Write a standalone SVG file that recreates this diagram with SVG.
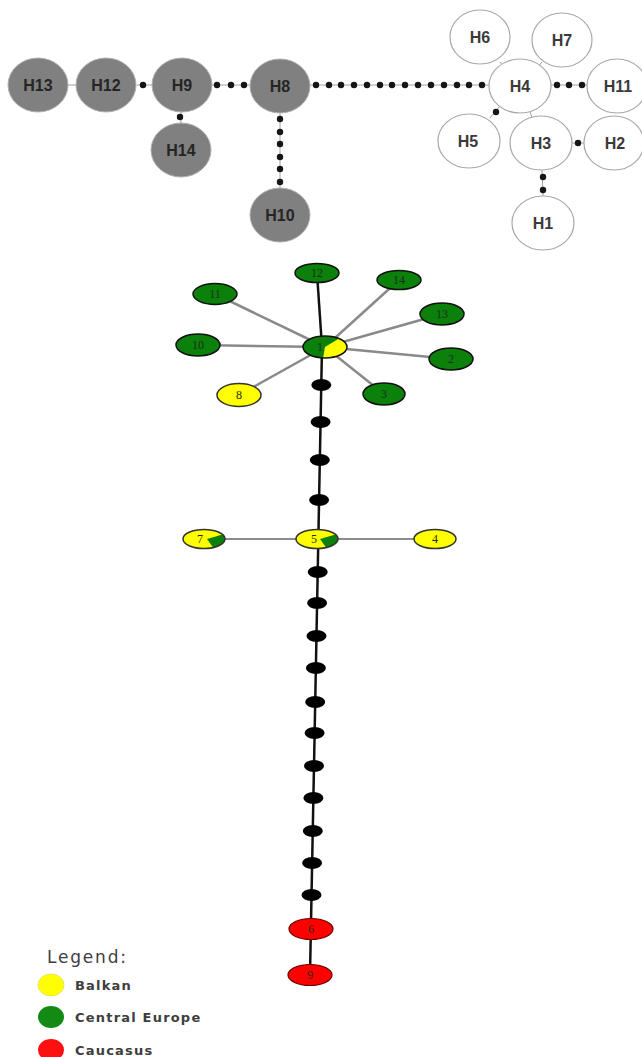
<svg xmlns="http://www.w3.org/2000/svg" width="642" height="1057" viewBox="0 0 642 1057">
  <style>
    .hg { fill: #808080; stroke: #b0b0b0; stroke-width: 1; }
    .hw { fill: #ffffff; stroke: #a8a8a8; stroke-width: 1.2; }
    .ht { font-family: "Liberation Sans", Arial, sans-serif; font-weight: bold; font-size: 16px; text-anchor: middle; fill: #252525; }
    .hwt { fill: #3a3a3a; }
    .thin { stroke: #a0a0a0; stroke-width: 1; fill: none; }
    .md { fill: #151515; }
    .star { stroke: #8a8a8a; stroke-width: 2.5; fill: none; }
    .axis { stroke: #111; stroke-width: 2.5; fill: none; }
    .gn { fill: #0b800b; stroke: #111; stroke-width: 1.5; }
    .yn { fill: #ffff00; stroke: #333; stroke-width: 1.5; }
    .gw { fill: #0b800b; }
    .yw { fill: #ffff00; }
    .rn { fill: #ff0000; stroke: #6a0000; stroke-width: 1.2; }
    .bd { fill: #000; }
    .nl { font-family: "Liberation Serif", "Times New Roman", serif; font-size: 12px; text-anchor: middle; fill: #1c2e1c; }
    .lg { font-family: "DejaVu Sans", Verdana, sans-serif; fill: #3e3e3e; }
  </style>

  <!-- connectors -->
  <g id="connectors">
    <!-- upper network: thin lines -->
    <line class="thin" x1="68" y1="85" x2="76" y2="85"/>
    <line class="thin" x1="137" y1="85" x2="152" y2="85"/>
    <line class="thin" x1="212" y1="85" x2="250" y2="85"/>
    <line class="thin" x1="310" y1="85" x2="489" y2="85"/>
    <line class="thin" x1="551" y1="85" x2="588" y2="85"/>
    <line class="thin" x1="181" y1="112" x2="181" y2="123"/>
    <line class="thin" x1="280" y1="113" x2="280" y2="188"/>
    <line class="thin" x1="500" y1="106" x2="490" y2="118"/>
    <line class="thin" x1="572" y1="143" x2="584" y2="143"/>
    <line class="thin" x1="542" y1="170" x2="543" y2="196"/>
    <line class="thin" x1="500" y1="62" x2="504" y2="67"/>
    <line class="thin" x1="542" y1="62" x2="538" y2="67"/>
    <line class="thin" x1="530" y1="112" x2="532" y2="117"/>
    <!-- mutation dots, upper network -->
    <g class="md">
      <circle cx="143" cy="85" r="3.2"/>
      <circle cx="217" cy="85" r="3.2"/>
      <circle cx="231" cy="85" r="3.2"/>
      <circle cx="244" cy="85" r="3.2"/>
      <circle cx="180" cy="117" r="3.2"/>
      <circle cx="280" cy="119" r="3.2"/>
      <circle cx="280" cy="132" r="3.2"/>
      <circle cx="280" cy="144" r="3.2"/>
      <circle cx="280" cy="157" r="3.2"/>
      <circle cx="280" cy="169" r="3.2"/>
      <circle cx="280" cy="182" r="3.2"/>
      <circle cx="316" cy="85" r="3.2"/>
      <circle cx="329" cy="85" r="3.2"/>
      <circle cx="341" cy="85" r="3.2"/>
      <circle cx="354" cy="85" r="3.2"/>
      <circle cx="367" cy="85" r="3.2"/>
      <circle cx="380" cy="85" r="3.2"/>
      <circle cx="392" cy="85" r="3.2"/>
      <circle cx="405" cy="85" r="3.2"/>
      <circle cx="418" cy="85" r="3.2"/>
      <circle cx="431" cy="85" r="3.2"/>
      <circle cx="444" cy="85" r="3.2"/>
      <circle cx="457" cy="85" r="3.2"/>
      <circle cx="469" cy="85" r="3.2"/>
      <circle cx="482" cy="85" r="3.2"/>
      <circle cx="557" cy="85" r="3.2"/>
      <circle cx="569" cy="85" r="3.2"/>
      <circle cx="582" cy="85" r="3.2"/>
      <circle cx="496" cy="112" r="3.2"/>
      <circle cx="578" cy="143" r="3.2"/>
      <circle cx="543" cy="177" r="3.2"/>
      <circle cx="543" cy="190" r="3.2"/>
    </g>

    <!-- lower network: star around node 1 -->
    <line class="star" x1="325" y1="347" x2="215" y2="294"/>
    <line class="star" x1="325" y1="347" x2="198" y2="345"/>
    <line class="star" x1="325" y1="347" x2="239" y2="395"/>
    <line class="star" x1="325" y1="347" x2="399" y2="280"/>
    <line class="star" x1="325" y1="347" x2="442" y2="314"/>
    <line class="star" x1="325" y1="347" x2="451" y2="359"/>
    <line class="star" x1="325" y1="347" x2="384" y2="394"/>
    <line class="axis" x1="317" y1="273" x2="322" y2="347"/>
    <!-- main axis from node 1 down to the Caucasus nodes -->
    <line class="axis" x1="322" y1="347" x2="310" y2="975"/>
    <line stroke="#666" stroke-width="1.6" x1="204" y1="539" x2="435" y2="539"/>
    <!-- mutation steps along the axis -->
    <g class="bd">
      <ellipse cx="321.3" cy="385" rx="10" ry="6"/>
      <ellipse cx="320.6" cy="422" rx="10" ry="6"/>
      <ellipse cx="319.8" cy="460" rx="10" ry="6"/>
      <ellipse cx="319.1" cy="500" rx="10" ry="6"/>
      <ellipse cx="317.7" cy="572" rx="10" ry="6"/>
      <ellipse cx="317.1" cy="603" rx="10" ry="6"/>
      <ellipse cx="316.5" cy="636" rx="10" ry="6"/>
      <ellipse cx="315.9" cy="668" rx="10" ry="6"/>
      <ellipse cx="315.2" cy="702" rx="10" ry="6"/>
      <ellipse cx="314.6" cy="733" rx="10" ry="6"/>
      <ellipse cx="314.0" cy="766" rx="10" ry="6"/>
      <ellipse cx="313.4" cy="798" rx="10" ry="6"/>
      <ellipse cx="312.8" cy="831" rx="10" ry="6"/>
      <ellipse cx="312.1" cy="863" rx="10" ry="6"/>
      <ellipse cx="311.5" cy="895" rx="10" ry="6"/>
    </g>
  </g>

  <!-- upper network: grey haplotypes -->
  <g id="H13"><ellipse class="hg" cx="38" cy="85" rx="30" ry="27"/><text class="ht" x="38" y="91">H13</text></g>
  <g id="H12"><ellipse class="hg" cx="106" cy="85" rx="30" ry="27"/><text class="ht" x="106" y="91">H12</text></g>
  <g id="H9"><ellipse class="hg" cx="182" cy="85" rx="30" ry="27"/><text class="ht" x="182" y="91">H9</text></g>
  <g id="H8"><ellipse class="hg" cx="280" cy="86" rx="30" ry="27"/><text class="ht" x="280" y="92">H8</text></g>
  <g id="H14"><ellipse class="hg" cx="181" cy="150" rx="30" ry="27"/><text class="ht" x="181" y="156">H14</text></g>
  <g id="H10"><ellipse class="hg" cx="280" cy="215" rx="30" ry="27"/><text class="ht" x="280" y="221">H10</text></g>

  <!-- upper network: white haplotypes -->
  <g id="H6"><ellipse class="hw" cx="480" cy="37" rx="30" ry="27"/><text class="ht hwt" x="480" y="43">H6</text></g>
  <g id="H7"><ellipse class="hw" cx="562" cy="40" rx="30" ry="27"/><text class="ht hwt" x="562" y="46">H7</text></g>
  <g id="H4"><ellipse class="hw" cx="520" cy="86" rx="31" ry="27"/><text class="ht hwt" x="520" y="92">H4</text></g>
  <g id="H11"><ellipse class="hw" cx="617" cy="86" rx="30" ry="27"/><text class="ht hwt" x="618" y="92">H11</text></g>
  <g id="H5"><ellipse class="hw" cx="469" cy="141" rx="31" ry="27"/><text class="ht hwt" x="468" y="147">H5</text></g>
  <g id="H3"><ellipse class="hw" cx="541" cy="143" rx="31" ry="27"/><text class="ht hwt" x="541" y="149">H3</text></g>
  <g id="H2"><ellipse class="hw" cx="614" cy="143" rx="30" ry="27"/><text class="ht hwt" x="615" y="149">H2</text></g>
  <g id="H1"><ellipse class="hw" cx="543" cy="223" rx="31" ry="27"/><text class="ht hwt" x="543" y="229">H1</text></g>

  <!-- lower network: Central Europe nodes around node 1 -->
  <g id="n12"><ellipse class="gn" cx="317" cy="273" rx="22" ry="9.5"/><text class="nl" x="317" y="277">12</text></g>
  <g id="n14"><ellipse class="gn" cx="399" cy="280" rx="22" ry="9.5"/><text class="nl" x="399" y="284">14</text></g>
  <g id="n11"><ellipse class="gn" cx="215" cy="294" rx="22" ry="10.5"/><text class="nl" x="215" y="298">11</text></g>
  <g id="n13"><ellipse class="gn" cx="442" cy="314" rx="22" ry="11"/><text class="nl" x="442" y="318">13</text></g>
  <g id="n10"><ellipse class="gn" cx="198" cy="345" rx="22" ry="11"/><text class="nl" x="198" y="349">10</text></g>
  <g id="n2"><ellipse class="gn" cx="451" cy="359" rx="22" ry="11"/><text class="nl" x="451" y="363">2</text></g>
  <g id="n3"><ellipse class="gn" cx="384" cy="394" rx="21" ry="11"/><text class="nl" x="384" y="398">3</text></g>
  <g id="n8"><ellipse class="yn" cx="239" cy="395" rx="22" ry="11.5"/><text class="nl" x="239" y="399">8</text></g>

  <!-- node 1: shared Central Europe / Balkan -->
  <g id="n1">
    <ellipse class="gw" cx="325" cy="347" rx="22" ry="11"/>
    <path class="yw" d="M325 347 L339.1 338.6 A22 11 0 0 1 323.1 358 Z"/>
    <ellipse cx="325" cy="347" rx="22" ry="11" fill="none" stroke="#111" stroke-width="1.5"/>
    <text class="nl" x="320" y="351">1</text>
  </g>

  <!-- Balkan nodes on the cross bar -->
  <g id="n7">
    <ellipse class="yw" cx="204" cy="539" rx="21" ry="9.5"/>
    <path class="gw" d="M207 539 L222.5 534.5 A21 9.5 0 0 1 213 547.6 Z"/>
    <ellipse cx="204" cy="539" rx="21" ry="9.5" fill="none" stroke="#333" stroke-width="1.5"/>
    <text class="nl" x="200" y="543">7</text>
  </g>
  <g id="n5">
    <ellipse class="yw" cx="317" cy="539" rx="21" ry="9.5"/>
    <path class="gw" d="M320 539 L335.5 534.5 A21 9.5 0 0 1 326 547.6 Z"/>
    <ellipse cx="317" cy="539" rx="21" ry="9.5" fill="none" stroke="#333" stroke-width="1.5"/>
    <text class="nl" x="314" y="543">5</text>
  </g>
  <g id="n4"><ellipse class="yn" cx="435" cy="539" rx="21" ry="9.5"/><text class="nl" x="435" y="543">4</text></g>

  <!-- Caucasus nodes -->
  <g id="n6"><ellipse class="rn" cx="311" cy="929" rx="22" ry="10.5"/><text class="nl" x="311" y="933" fill="#7a1010">6</text></g>
  <g id="n9"><ellipse class="rn" cx="310" cy="975" rx="22" ry="10.5"/><text class="nl" x="310" y="979" fill="#7a1010">9</text></g>

  <!-- legend -->
  <g id="legend">
    <text class="lg" x="47" y="963" font-size="17" letter-spacing="1.8">Legend:</text>
    <ellipse cx="51" cy="985" rx="13" ry="11" fill="#ffff00" stroke="#e8e860" stroke-width="1"/>
    <text class="lg" x="75" y="990" font-size="13" letter-spacing="1.2" font-weight="600">Balkan</text>
    <ellipse cx="51" cy="1017" rx="13" ry="11" fill="#138a13"/>
    <text class="lg" x="75" y="1022" font-size="13" letter-spacing="1.2" font-weight="600">Central Europe</text>
    <ellipse cx="51" cy="1050" rx="13" ry="11" fill="#ff1010"/>
    <text class="lg" x="75" y="1055" font-size="13" letter-spacing="1.2" font-weight="600">Caucasus</text>
  </g>
</svg>
